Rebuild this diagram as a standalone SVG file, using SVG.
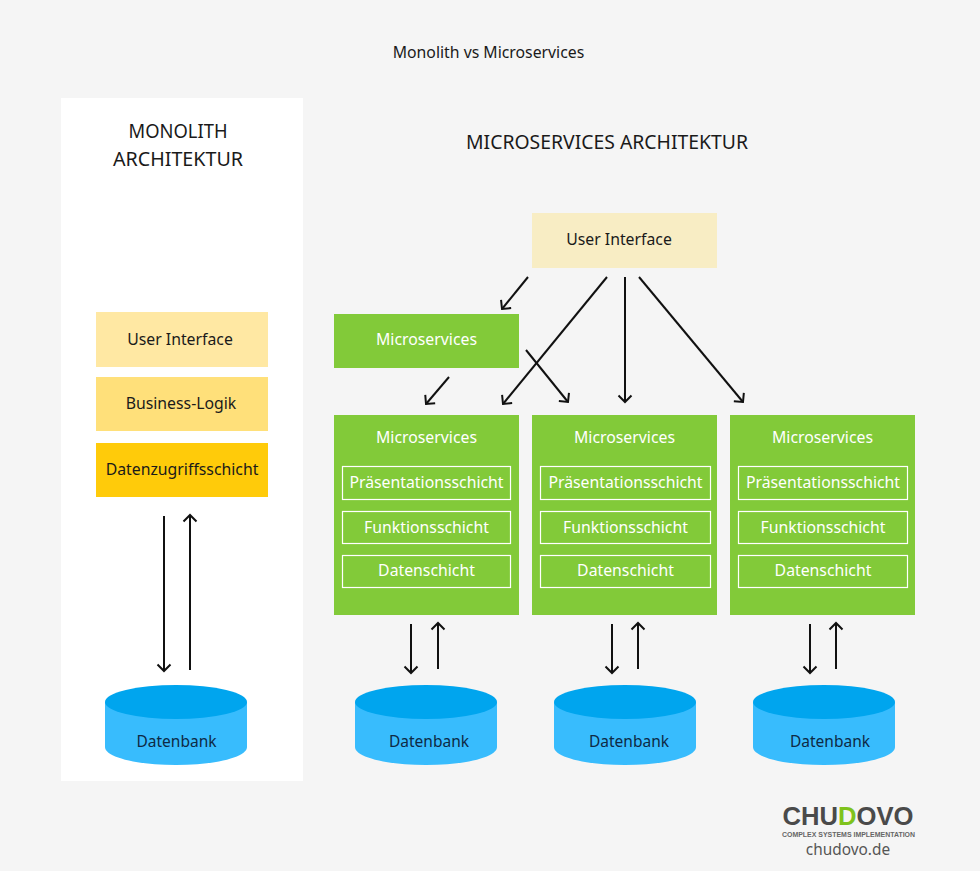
<svg xmlns="http://www.w3.org/2000/svg" width="980" height="871" viewBox="0 0 980 871">
<style>
text{font-family:"Noto Sans","Liberation Sans",sans-serif;text-anchor:middle;fill:#1a1a1a;font-size:15.8px}
.h{font-size:19.4px}
.w{fill:#fff}
.ms{fill:#82ca39}
.in{fill:none;stroke:#fff;stroke-width:1.2}
.side{fill:#38bcfd}
.top{fill:#00a5ee}
.db{fill:#0e2a45;font-size:15.500px}
.c line{stroke:#111;stroke-width:2;fill:none}
</style>
<defs>
<marker id="a" markerUnits="userSpaceOnUse" markerWidth="18" markerHeight="18" refX="15" refY="8" orient="auto">
<path d="M8.500 1.500 L15 8 L8.500 14.500" fill="none" stroke="#111" stroke-width="2"/>
</marker>
<g id="cyl">
<path class="side" d="M0 17 V62 C0 72 31 80 71 80 C111 80 142 72 142 62 V17 Z"/>
<ellipse class="top" cx="71" cy="17" rx="71" ry="17"/>
</g>
</defs>
<rect width="980" height="871" fill="#f5f5f5"/>
<text id="title" x="488.500" y="58">Monolith vs Microservices</text>
<rect id="monolith-panel" x="61" y="98" width="242" height="683" fill="#fff"/>
<g id="monolith-heading"><text class="h" x="178" y="138" textLength="99" lengthAdjust="spacingAndGlyphs">MONOLITH</text><text class="h" x="178" y="165.500" textLength="130" lengthAdjust="spacingAndGlyphs">ARCHITEKTUR</text></g>
<text id="microservices-heading" class="h" x="607" y="148.500" textLength="282" lengthAdjust="spacingAndGlyphs">MICROSERVICES ARCHITEKTUR</text>

<g id="mono-ui"><rect x="96" y="312" width="172" height="55" fill="#ffe8a3"/><text x="180" y="344.500">User Interface</text></g>
<g id="mono-logic"><rect x="96" y="377" width="172" height="54" fill="#ffe07a"/><text x="181" y="409">Business-Logik</text></g>
<g id="mono-data"><rect x="96" y="443" width="172" height="54" fill="#ffcb0a"/><text x="182" y="474.500">Datenzugriffsschicht</text></g>

<g id="ms-ui"><rect x="532" y="213" width="185" height="55" fill="#f8edc4"/><text x="619" y="244.500">User Interface</text></g>
<g id="ms-single"><rect class="ms" x="334" y="314" width="185" height="54"/><text class="w" x="426.500" y="345">Microservices</text></g>

<g id="ms-1"><rect class="ms" x="334" y="415" width="185" height="200"/><text class="w" x="426.500" y="443">Microservices</text>
<rect class="in" x="342.500" y="466.500" width="168" height="33"/><text class="w" x="426.500" y="488">Präsentationsschicht</text>
<rect class="in" x="342.500" y="511.500" width="168" height="32"/><text class="w" x="426.500" y="533">Funktionsschicht</text>
<rect class="in" x="342.500" y="555.500" width="168" height="32"/><text class="w" x="426.500" y="576">Datenschicht</text></g>
<g id="ms-2"><rect class="ms" x="532" y="415" width="185" height="200"/><text class="w" x="624.500" y="443">Microservices</text>
<rect class="in" x="540.500" y="466.500" width="170" height="33"/><text class="w" x="625.500" y="488">Präsentationsschicht</text>
<rect class="in" x="540.500" y="511.500" width="170" height="32"/><text class="w" x="625.500" y="533">Funktionsschicht</text>
<rect class="in" x="540.500" y="555.500" width="170" height="32"/><text class="w" x="625.500" y="576">Datenschicht</text></g>
<g id="ms-3"><rect class="ms" x="730" y="415" width="185" height="200"/><text class="w" x="822.500" y="443">Microservices</text>
<rect class="in" x="738.500" y="466.500" width="169" height="33"/><text class="w" x="823" y="488">Präsentationsschicht</text>
<rect class="in" x="738.500" y="511.500" width="169" height="32"/><text class="w" x="823" y="533">Funktionsschicht</text>
<rect class="in" x="738.500" y="555.500" width="169" height="32"/><text class="w" x="823" y="576">Datenschicht</text></g>

<g id="db-mono"><use href="#cyl" x="105" y="685"/><text class="db" x="176.500" y="747">Datenbank</text></g>
<g id="db-1"><use href="#cyl" x="355" y="685"/><text class="db" x="429" y="747">Datenbank</text></g>
<g id="db-2"><use href="#cyl" x="554" y="685"/><text class="db" x="629" y="747">Datenbank</text></g>
<g id="db-3"><use href="#cyl" x="753" y="685"/><text class="db" x="830" y="747">Datenbank</text></g>

<g id="connectors" class="c">
<line x1="164" y1="516" x2="164" y2="671" marker-end="url(#a)"/>
<line x1="190" y1="670" x2="190" y2="515" marker-end="url(#a)"/>
<line x1="528" y1="277" x2="502" y2="309" marker-end="url(#a)"/>
<line x1="607" y1="277" x2="503" y2="404" marker-end="url(#a)"/>
<line x1="625" y1="277" x2="625" y2="402" marker-end="url(#a)"/>
<line x1="639" y1="277" x2="743" y2="402" marker-end="url(#a)"/>
<line x1="449" y1="377" x2="426" y2="404" marker-end="url(#a)"/>
<line x1="526" y1="350" x2="568" y2="402" marker-end="url(#a)"/>
<line x1="411" y1="624" x2="411" y2="673" marker-end="url(#a)"/>
<line x1="438" y1="669" x2="438" y2="623" marker-end="url(#a)"/>
<line x1="612" y1="624" x2="612" y2="673" marker-end="url(#a)"/>
<line x1="638" y1="669" x2="638" y2="623" marker-end="url(#a)"/>
<line x1="810" y1="624" x2="810" y2="673" marker-end="url(#a)"/>
<line x1="836" y1="669" x2="836" y2="623" marker-end="url(#a)"/>
</g>

<g id="logo">
<text x="848" y="825" style="font-family:'Liberation Sans',sans-serif;font-weight:700;font-size:25px;fill:#4a4a4a" textLength="131" lengthAdjust="spacingAndGlyphs">CHU<tspan fill="#7fc31c">D</tspan>OVO</text>
<text x="848.500" y="836.500" style="font-family:'Liberation Sans',sans-serif;font-weight:700;font-size:6.500px;fill:#666" textLength="133" lengthAdjust="spacingAndGlyphs">COMPLEX SYSTEMS IMPLEMENTATION</text>
<text x="848" y="855" style="fill:#555;font-size:15.400px">chudovo.de</text>
</g>
</svg>
